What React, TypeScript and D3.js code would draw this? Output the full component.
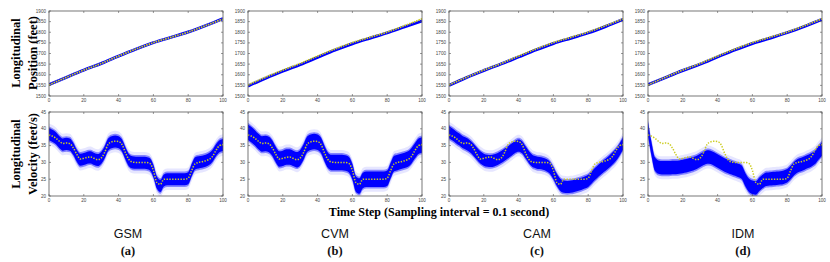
import React from "react";
import * as d3 from "d3";

// ---------- data ----------
const models = ["GSM", "CVM", "CAM", "IDM"];
const subLabels = ["(a)", "(b)", "(c)", "(d)"];
const posTicks = [1500, 1550, 1600, 1650, 1700, 1750, 1800, 1850, 1900];
const velTicks = [20, 25, 30, 35, 40, 45];
const timeTicks = [0, 20, 40, 60, 80, 100];

// position, sampled every 10 steps
const posSteps = [0, 10, 20, 30, 40, 50, 60, 70, 80, 90, 100];
const posTruth = [1552, 1588, 1622, 1653, 1688, 1721, 1751, 1776, 1801, 1831, 1863];
const posGSM = [1553, 1588, 1622, 1653, 1688, 1721, 1751, 1776, 1801, 1831, 1864];
const posCVM = [1547, 1583, 1617, 1648, 1682, 1716, 1746, 1772, 1797, 1825, 1853];
const posCAM = [1550, 1587, 1620, 1651, 1684, 1717, 1747, 1772, 1797, 1827, 1860];
const posIDM = [1553, 1587, 1620, 1650, 1684, 1717, 1747, 1772, 1798, 1828, 1861];

// velocity, sampled every 2 steps (0..100)
const velSteps = d3.range(0, 101, 2);
const velTruth = [38.2, 37.8, 37.2, 36.3, 35.6, 35.8, 35.6, 34.3, 32.4, 31.0, 31.2, 31.5, 31.6, 31.2, 30.8, 31.3, 33.0, 35.4, 36.1, 36.3, 36.2, 35.3, 32.8, 30.8, 30.1, 30.0, 30.0, 30.0, 30.0, 29.7, 27.6, 24.0, 23.5, 25.0, 25.0, 25.0, 25.0, 25.0, 25.0, 25.0, 25.3, 27.6, 29.6, 30.0, 30.2, 30.5, 30.9, 31.8, 33.6, 35.0, 35.3];
const velGSM = [38.4, 37.9, 37.2, 36.0, 35.3, 35.5, 35.3, 34.0, 32.0, 30.8, 31.0, 31.4, 31.5, 31.0, 30.7, 31.3, 33.0, 35.3, 36.0, 36.2, 36.0, 35.0, 32.6, 30.6, 30.0, 29.9, 29.9, 29.9, 29.8, 29.4, 27.4, 24.0, 23.0, 24.6, 25.0, 25.0, 25.0, 25.0, 25.0, 25.0, 25.3, 27.7, 29.7, 30.0, 30.2, 30.5, 31.0, 32.0, 33.6, 34.8, 35.2];
const velCVM = [39.0, 38.2, 37.3, 36.2, 35.5, 35.6, 35.3, 34.2, 32.3, 31.0, 31.2, 31.6, 31.6, 31.2, 30.8, 31.4, 33.2, 35.4, 36.0, 36.2, 36.0, 35.0, 32.6, 30.6, 30.0, 30.0, 30.0, 30.0, 29.8, 29.3, 27.2, 23.6, 23.0, 24.6, 25.0, 25.0, 25.0, 25.0, 25.0, 25.0, 25.3, 27.6, 29.7, 30.0, 30.3, 30.6, 31.0, 32.0, 33.5, 34.8, 35.2];
const velCAM = [39.0, 38.3, 37.5, 36.8, 36.0, 35.5, 34.8, 33.8, 32.6, 31.5, 30.8, 30.5, 30.4, 30.6, 31.0, 31.6, 32.3, 33.0, 33.8, 34.6, 35.0, 34.5, 33.0, 31.5, 30.4, 30.0, 29.8, 29.6, 29.2, 28.4, 26.8, 24.8, 23.3, 22.8, 22.7, 22.8, 23.0, 23.3, 23.6, 24.0, 24.5, 25.5, 26.6, 27.6, 28.5, 29.3, 30.2, 31.2, 32.3, 33.8, 35.6];
const velIDM = [40.0, 34.0, 29.5, 28.6, 28.4, 28.4, 28.4, 28.5, 28.5, 28.6, 28.8, 29.0, 29.3, 29.6, 30.0, 30.6, 31.2, 31.6, 31.5, 31.0, 30.4, 29.8, 29.2, 28.8, 28.4, 28.0, 27.6, 27.0, 24.8, 23.2, 22.6, 22.4, 23.5, 24.4, 25.0, 25.1, 25.2, 25.3, 25.4, 25.6, 26.0, 27.0, 28.2, 29.0, 29.4, 29.8, 30.3, 30.8, 31.5, 32.8, 34.0];
const velSpread = [1.8, 2.3, 1.8, 2.0];

const posEst = [posGSM, posCVM, posCAM, posIDM];
const velEst = [velGSM, velCVM, velCAM, velIDM];

// ---------- layout ----------
const W = 830;
const H = 262;
const panelLefts = [49, 248, 449, 648];
const labelXs = [128, 335, 537, 743];
const PW = 174;
const TOP_Y = 11;
const TOP_H = 85;
const BOT_Y = 112;
const BOT_H = 84;
const BLUE = "#0000ff";
const YELLOW = "#cccc22";
const TICK_FONT = "Liberation Sans, Arial, sans-serif";
const SERIF = "Liberation Serif, Times New Roman, serif";

function Frame({ x, y, w, h, xs, ys, yt }: any) {
  return (
    <g>
      <rect x={x} y={y} width={w} height={h} fill="none" stroke="#555" strokeWidth={0.8} />
      {timeTicks.map((t) => (
        <g key={"xt" + t}>
          <line x1={xs(t)} x2={xs(t)} y1={y + h} y2={y + h - 2} stroke="#555" strokeWidth={0.6} />
          <line x1={xs(t)} x2={xs(t)} y1={y} y2={y + 2} stroke="#555" strokeWidth={0.6} />
          <text x={xs(t)} y={y + h + 5.5} fontSize={4.6} textAnchor="middle" fill="#444" fontFamily={TICK_FONT}>
            {t}
          </text>
        </g>
      ))}
      {yt.map((v: number) => (
        <g key={"yt" + v}>
          <line x1={x} x2={x + 2} y1={ys(v)} y2={ys(v)} stroke="#555" strokeWidth={0.6} />
          <line x1={x + w} x2={x + w - 2} y1={ys(v)} y2={ys(v)} stroke="#555" strokeWidth={0.6} />
          <text x={x - 3} y={ys(v) + 1.6} fontSize={4.6} textAnchor="end" fill="#444" fontFamily={TICK_FONT}>
            {v}
          </text>
        </g>
      ))}
    </g>
  );
}

export default function App() {
  return (
    <svg width={W} height={H} style={{ position: "absolute", left: 0, top: 0, background: "#fff" }}>
      <rect width={W} height={H} fill="#fff" />
      <defs>
        {panelLefts.map((x, i) => (
          <g key={"cp" + i}>
            <clipPath id={"ct" + i}>
              <rect x={x} y={TOP_Y} width={PW} height={TOP_H} />
            </clipPath>
            <clipPath id={"cb" + i}>
              <rect x={x} y={BOT_Y} width={PW} height={BOT_H} />
            </clipPath>
          </g>
        ))}
      </defs>
      {panelLefts.map((x0, i) => {
        const xs = d3.scaleLinear().domain([0, 100]).range([x0, x0 + PW]);
        const ysTop = d3.scaleLinear().domain([1500, 1900]).range([TOP_Y + TOP_H, TOP_Y]);
        const ysBot = d3.scaleLinear().domain([20, 45]).range([BOT_Y + BOT_H, BOT_Y]);
        const posLine = d3
          .line<number>()
          .x((_, k) => xs(posSteps[k]))
          .y((d) => ysTop(d))
          .curve(d3.curveMonotoneX);
        const velLine = d3
          .line<number>()
          .x((_, k) => xs(velSteps[k]))
          .y((d) => ysBot(d))
          .curve(d3.curveMonotoneX);
        const sp = velSpread[i];
        const band = (extra: number) =>
          d3
            .area<number>()
            .x((_, k) => xs(velSteps[k]))
            .y0((d) => ysBot(d - sp - extra))
            .y1((d) => ysBot(d + sp + extra))
            .curve(d3.curveMonotoneX)(velEst[i]) as string;
        return (
          <g key={models[i]}>
            {/* position panel */}
            <g clipPath={`url(#ct${i})`}>
              <path d={posLine(posEst[i]) as string} fill="none" stroke={BLUE} strokeWidth={3} />
              <path d={posLine(posTruth) as string} fill="none" stroke={YELLOW} strokeWidth={1.8} strokeDasharray="1.6,0.9" />
            </g>
            <Frame x={x0} y={TOP_Y} w={PW} h={TOP_H} xs={xs} ys={ysTop} yt={posTicks} />
            {/* velocity panel */}
            <g clipPath={`url(#cb${i})`}>
              <path d={band(1.4)} fill="#8c8cff" opacity={0.22} />
              <path d={band(0.5)} fill="#3333ff" opacity={0.55} />
              <path d={band(0)} fill={BLUE} />
              <path d={velLine(velTruth) as string} fill="none" stroke={YELLOW} strokeWidth={1.5} strokeDasharray="1.4,1.4" />
            </g>
            <Frame x={x0} y={BOT_Y} w={PW} h={BOT_H} xs={xs} ys={ysBot} yt={velTicks} />
            {/* model labels */}
            <text x={labelXs[i]} y={238} fontSize={12.5} textAnchor="middle" fontFamily="Liberation Sans, Arial, sans-serif" fill="#111">
              {models[i]}
            </text>
            <text x={labelXs[i]} y={255} fontSize={12.5} textAnchor="middle" fontWeight="bold" fontFamily={SERIF} fill="#111">
              {subLabels[i]}
            </text>
          </g>
        );
      })}
      {/* y-axis titles */}
      <text transform="translate(20,53) rotate(-90)" textAnchor="middle" fontSize={12.5} fontWeight="bold" fontFamily={SERIF}>
        Longitudinal
      </text>
      <text transform="translate(37,53) rotate(-90)" textAnchor="middle" fontSize={12.5} fontWeight="bold" fontFamily={SERIF}>
        Position (feet)
      </text>
      <text transform="translate(20,154) rotate(-90)" textAnchor="middle" fontSize={12.5} fontWeight="bold" fontFamily={SERIF}>
        Longitudinal
      </text>
      <text transform="translate(37,154) rotate(-90)" textAnchor="middle" fontSize={12.5} fontWeight="bold" fontFamily={SERIF}>
        Velocity (feet/s)
      </text>
      <text x={439} y={216} textAnchor="middle" fontSize={12} fontWeight="bold" fontFamily={SERIF}>
        Time Step (Sampling interval = 0.1 second)
      </text>
    </svg>
  );
}
